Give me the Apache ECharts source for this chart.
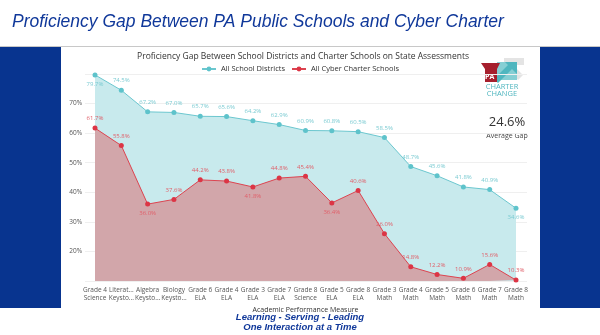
<!DOCTYPE html>
<html><head><meta charset="utf-8">
<script src="https://cdn.jsdelivr.net/npm/echarts@6/dist/echarts.min.js"></script>
<style>html,body{margin:0;padding:0;background:#fff}#c{width:600px;height:335px}</style>
</head><body><div id="c"></div>
<script>
const categories = ["Grade 4\nScience","Literat...\nKeysto...","Algebra\nKeysto...","Biology\nKeysto...","Grade 6\nELA","Grade 4\nELA","Grade 3\nELA","Grade 7\nELA","Grade 8\nScience","Grade 5\nELA","Grade 8\nELA","Grade 3\nMath","Grade 4\nMath","Grade 5\nMath","Grade 6\nMath","Grade 7\nMath","Grade 8\nMath"];
const districts = [79.7,74.5,67.2,67.0,65.7,65.6,64.2,62.9,60.9,60.8,60.5,58.5,48.7,45.6,41.8,40.9,34.6];
const cyber = [61.7,55.8,36.0,37.6,44.2,43.8,41.8,44.8,45.4,36.4,40.6,26.0,14.8,12.2,10.9,15.6,10.3];
const yTicks = [10,20,30,40,50,60,70,80];
const averageGap = "24.6%";
const districtsBelow = [0,16];
const cyberBelow = [2,6,9];

const chart = echarts.init(document.getElementById('c'));
const font = "'Open Sans','Noto Sans',sans-serif";
function mk(vals, below) {
  return vals.map((v,i)=> below.includes(i) ? {value:v,label:{position:'bottom'}} : v);
}
chart.setOption({
  animation:false,
  graphic:[
    {type:'rect',shape:{x:0,y:46,width:600,height:1},style:{fill:'#c8c8c8'}},
    {type:'rect',shape:{x:0,y:47,width:61,height:261},style:{fill:'#08348f'}},
    {type:'rect',shape:{x:540,y:47,width:60,height:261},style:{fill:'#08348f'}},
    {type:'text',x:12,y:13,style:{text:'Proficiency Gap Between PA Public Schools and Cyber Charter',font:"italic 17.5px 'Liberation Sans',Arial,sans-serif",fill:'#10389a'}},
    {type:'text',x:300,y:312,style:{text:'Learning - Serving - Leading',font:"italic bold 9.5px 'Liberation Sans',Arial,sans-serif",fill:'#10389a',align:'center'}},
    {type:'text',x:300,y:322,style:{text:'One Interaction at a Time',font:"italic bold 9.5px 'Liberation Sans',Arial,sans-serif",fill:'#10389a',align:'center'}},
    {type:'text',x:507,y:116,style:{text:averageGap,font:"13px "+font,fill:'#333',align:'center'}},
    {type:'text',x:507,y:132,style:{text:'Average Gap',font:"7px "+font,fill:'#444',align:'center'}},
    // logo
    {type:'polygon',shape:{points:[[504,58],[524,58],[524,65],[513,65],[523,75],[518,80],[509,70],[509,80],[504,80]]},style:{fill:'#e4e4e4'}},
    {type:'polygon',shape:{points:[[497,62],[517,62],[517,80],[497,80]]},style:{fill:'#86cfd4'}},
    {type:'polygon',shape:{points:[[505,62],[517,62],[517,74],[512,69],[498,83],[494,79],[508,65]]},style:{fill:'#4fb6bf'}},
    {type:'polygon',shape:{points:[[481,63],[500,63],[497,69],[497,82],[485,82],[485,69]]},style:{fill:'#a61f2d'}},
    {type:'text',x:485,y:73,style:{text:'PA',font:"bold 7px "+font,fill:'#fff'}},
    {type:'text',x:502,y:83,style:{text:'CHARTER',font:"7.5px "+font,fill:'#4fb6bf',align:'center'}},
    {type:'text',x:502,y:90,style:{text:'CHANGE',font:"7.5px "+font,fill:'#4fb6bf',align:'center'}}
  ],
  title:{text:'Proficiency Gap Between School Districts and Charter Schools on State Assessments',left:298,textAlign:'center',top:47,textStyle:{fontSize:8.5,fontWeight:'normal',color:'#333',fontFamily:font}},
  legend:{top:60,left:'center',itemWidth:14,itemHeight:6,itemGap:6,textStyle:{fontSize:7.5,color:'#333',fontFamily:font},data:['All School Districts','All Cyber Charter Schools']},
  grid:[
    {left:95,right:84,top:74,bottom:54,containLabel:false},
    {left:85,right:73,top:74,bottom:54,containLabel:false}
  ],
  xAxis:[
    {type:'category',gridIndex:0,data:categories,boundaryGap:false,axisLine:{show:false},axisTick:{show:false},
     axisLabel:{fontSize:6.5,color:'#555',lineHeight:8,interval:0,margin:5,fontFamily:font},
     name:'Academic Performance Measure',nameLocation:'middle',nameGap:14,nameTextStyle:{fontSize:7,color:'#333',fontFamily:font}},
    {type:'value',gridIndex:1,show:false,min:0,max:1}
  ],
  yAxis:[
    {type:'value',gridIndex:0,min:10,max:80,interval:10,show:false},
    {type:'value',gridIndex:1,min:10,max:80,interval:10,axisLine:{show:false},axisTick:{show:false},
     splitLine:{lineStyle:{color:'#efefef',width:1}},
     axisLabel:{showMinLabel:false,showMaxLabel:false,formatter:'{value}%',fontSize:6.5,color:'#555',margin:3,fontFamily:font}}
  ],
  series:[
    {name:'All School Districts',type:'line',xAxisIndex:0,yAxisIndex:0,data:mk(districts,districtsBelow),
     symbol:'circle',symbolSize:5,itemStyle:{color:'#5ec3cb'},lineStyle:{width:1,color:'#6cc7cf'},
     areaStyle:{color:'#c8eaed',opacity:1},
     label:{show:true,position:'top',formatter:p=>p.value.toFixed(1)+'%',fontSize:6,color:'#7ccbd2',distance:4,fontFamily:font},z:2},
    {name:'All Cyber Charter Schools',type:'line',xAxisIndex:0,yAxisIndex:0,data:mk(cyber,cyberBelow),
     symbol:'circle',symbolSize:5,itemStyle:{color:'#dc3545'},lineStyle:{width:1,color:'#dc4450'},
     areaStyle:{color:'#d2a6aa',opacity:1},
     label:{show:true,position:'top',formatter:p=>p.value.toFixed(1)+'%',fontSize:6,color:'#e0606a',distance:4,fontFamily:font},z:3}
  ]
});
</script></body></html>
